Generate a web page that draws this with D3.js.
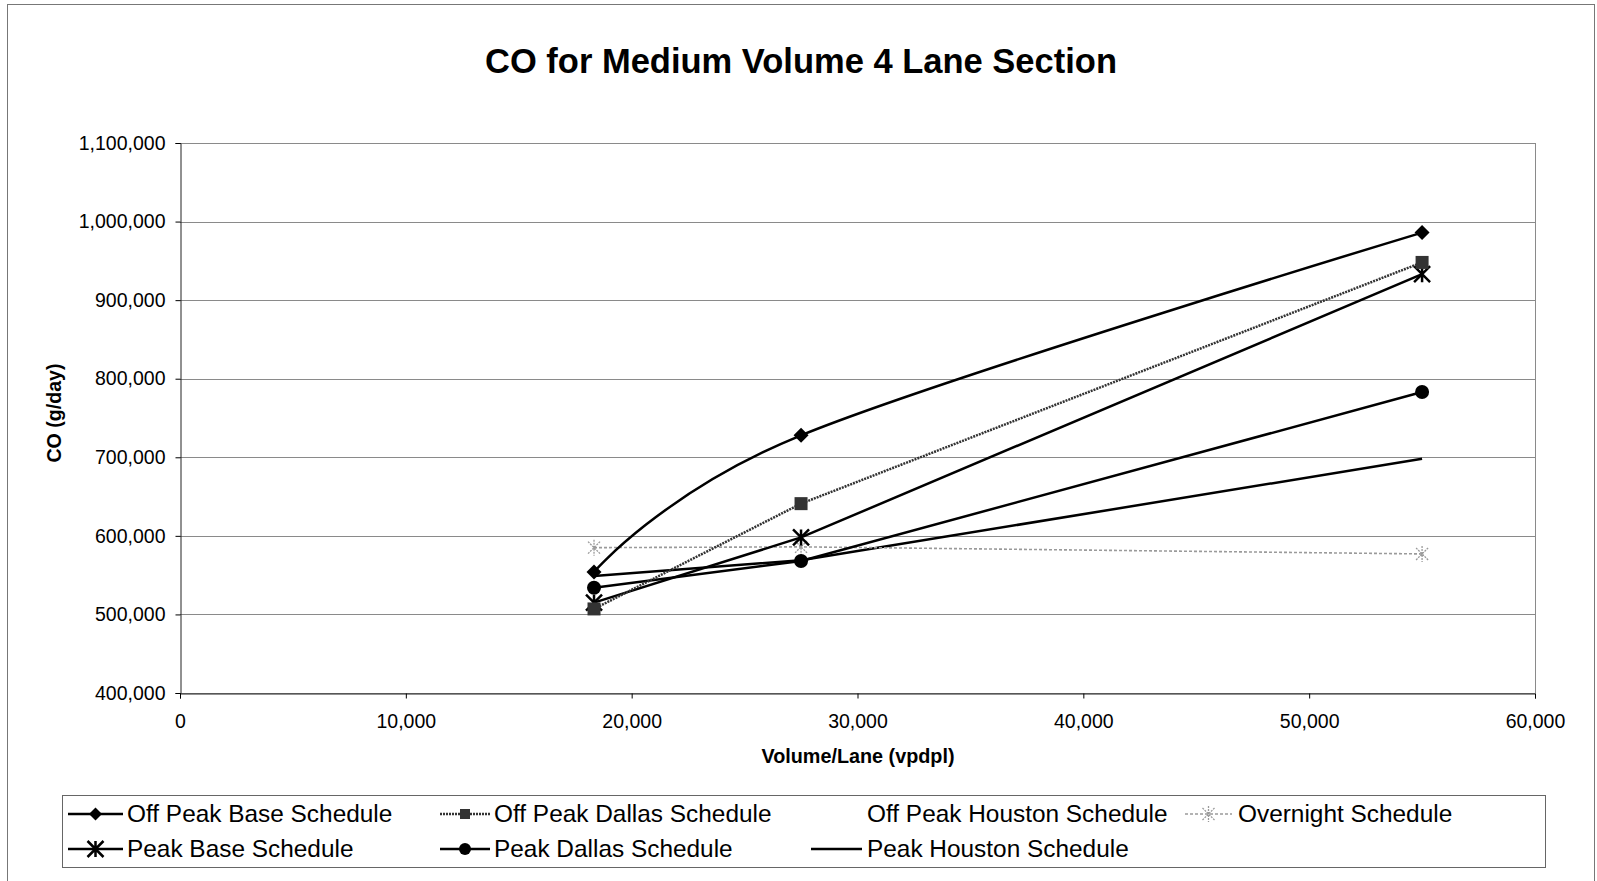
<!DOCTYPE html>
<html><head><meta charset="utf-8">
<script src="https://cdn.jsdelivr.net/npm/d3@7"></script>
<style>body{margin:0;background:#fff}svg{display:block;font-family:"Liberation Sans",Arial,sans-serif}</style>
</head><body>
<svg id="c" width="1597" height="881"></svg>
<script>
const title = "CO for Medium Volume 4 Lane Section";
const xTitle = "Volume/Lane (vpdpl)";
const yTitle = "CO (g/day)";
const xValues = [18333, 27500, 55000];
const offPeakBase = [554000, 728000, 986000];
const offPeakDallas = [507000, 641000, 948000];
const overnight = [585000, 586000, 577000];
const peakBase = [515000, 598000, 933000];
const peakDallas = [534000, 568000, 783000];
const peakHouston = [549000, 569000, 698000];
const xTicks = [0, 10000, 20000, 30000, 40000, 50000, 60000];
const yTicks = [400000, 500000, 600000, 700000, 800000, 900000, 1000000, 1100000];

const svg = d3.select("#c");
const L = 180, R = 1535, T = 143, B = 693;
const x = d3.scaleLinear().domain([0, 60000]).range([L, R]);
const y = d3.scaleLinear().domain([400000, 1100000]).range([B, T]);
const fmt = d3.format(",");

// outer border
svg.append("rect").attr("x", 7.5).attr("y", 4.5).attr("width", 1587).attr("height", 890)
  .attr("fill", "none").attr("stroke", "#777").attr("stroke-width", 1);

// title
svg.append("text").attr("x", 801).attr("y", 73).attr("text-anchor", "middle")
  .attr("font-size", 34.5).attr("font-weight", "bold").text(title);

// gridlines
svg.append("g").selectAll("line").data(yTicks).join("line")
  .attr("x1", L).attr("x2", R).attr("y1", d => Math.round(y(d)) + 0.5).attr("y2", d => Math.round(y(d)) + 0.5)
  .attr("stroke", "#8a8a8a").attr("stroke-width", 1);
// right border
svg.append("line").attr("x1", R + 0.5).attr("x2", R + 0.5).attr("y1", T).attr("y2", B)
  .attr("stroke", "#8a8a8a");

// axes
const yAxis = d3.axisLeft(y).tickValues(yTicks).tickFormat(fmt).tickSize(5).tickPadding(10);
const gy = svg.append("g").attr("transform", `translate(${L + 0.5},0)`).call(yAxis);
gy.selectAll("text").attr("font-size", 19.5).attr("fill", "#000").attr("font-family", "Liberation Sans, Arial");
gy.select(".domain").attr("stroke", "#222");
const xAxis = d3.axisBottom(x).tickValues(xTicks).tickFormat(fmt).tickSize(5).tickPadding(16);
const gx = svg.append("g").attr("transform", `translate(0,${B + 0.5})`).call(xAxis);
gx.selectAll("text").attr("font-size", 19.5).attr("fill", "#000").attr("font-family", "Liberation Sans, Arial");
gx.select(".domain").attr("stroke", "#222");

// axis titles
svg.append("text").attr("x", 858).attr("y", 763).attr("text-anchor", "middle")
  .attr("font-size", 19.8).attr("font-weight", "bold").text(xTitle);
svg.append("text").attr("transform", "translate(61,413) rotate(-90)").attr("text-anchor", "middle")
  .attr("font-size", 19.6).attr("font-weight", "bold").text(yTitle);

// marker drawers
function marker(g, type, cx, cy, color) {
  if (type === "diamond") {
    g.append("path").attr("d", `M${cx},${cy-7.5}L${cx+7.5},${cy}L${cx},${cy+7.5}L${cx-7.5},${cy}Z`).attr("fill", color);
  } else if (type === "square") {
    g.append("rect").attr("x", cx-6.5).attr("y", cy-6.5).attr("width", 13).attr("height", 13).attr("fill", color);
  } else if (type === "circle") {
    g.append("circle").attr("cx", cx).attr("cy", cy).attr("r", 7).attr("fill", color);
  } else if (type === "star") {
    const r = 8;
    const d = `M${cx-r},${cy-r}L${cx+r},${cy+r}M${cx-r},${cy+r}L${cx+r},${cy-r}M${cx},${cy-r}L${cx},${cy+r}`;
    g.append("path").attr("d", d).attr("stroke", color).attr("stroke-width", 2.5).attr("fill", "none");
  } else if (type === "xstar") {
    const r = 6;
    const d = `M${cx-r},${cy-r}L${cx+r},${cy+r}M${cx-r},${cy+r}L${cx+r},${cy-r}M${cx},${cy-r-2}L${cx},${cy+r+2}`;
    g.append("path").attr("d", d).attr("stroke", color).attr("stroke-width", 1.3).attr("fill", "none").attr("stroke-dasharray", "2,1");
  }
}

const series = [
  {name: "Peak Houston Schedule", vals: peakHouston, color: "#000", w: 2.5, dash: null, m: null, curve: d3.curveLinear},
  {name: "Overnight Schedule", vals: overnight, color: "#9a9a9a", w: 1.6, dash: "3,2", m: "xstar", curve: d3.curveLinear},
  {name: "Peak Dallas Schedule", vals: peakDallas, color: "#000", w: 2.5, dash: null, m: "circle", curve: d3.curveLinear},
  {name: "Peak Base Schedule", vals: peakBase, color: "#000", w: 2.5, dash: null, m: "star", curve: d3.curveLinear},
  {name: "Off Peak Dallas Schedule", vals: offPeakDallas, color: "#333", w: 2.5, dash: "2,1", m: "square", curve: d3.curveLinear},
  {name: "Off Peak Base Schedule", vals: offPeakBase, color: "#000", w: 2.5, dash: null, m: "diamond", curve: d3.curveCardinal.tension(0)},
];

const plot = svg.append("g");
series.forEach(s => {
  const pts = xValues.map((xv, i) => [xv, s.vals[i]]);
  const line = d3.line().x(d => x(d[0])).y(d => y(d[1])).curve(s.curve);
  plot.append("path").attr("d", line(pts)).attr("fill", "none").attr("stroke", s.color)
    .attr("stroke-width", s.w).attr("stroke-dasharray", s.dash);
  if (s.m) pts.forEach(p => marker(plot, s.m, x(p[0]), y(p[1]), s.color));
});

// legend
const lg = svg.append("g");
lg.append("rect").attr("x", 62.5).attr("y", 795.5).attr("width", 1483).attr("height", 72)
  .attr("fill", "#fff").attr("stroke", "#666");
const legendItems = [
  {name: "Off Peak Base Schedule", x0: 68, x1: 123, tx: 127, row: 0, color: "#000", dash: null, m: "diamond", w: 2.5},
  {name: "Off Peak Dallas Schedule", x0: 440, x1: 490, tx: 494, row: 0, color: "#333", dash: "2,1", m: "square", w: 2.5},
  {name: "Off Peak Houston Schedule", x0: 811, x1: 862, tx: 867, row: 0, color: "#fff", dash: null, m: null, w: 2.5},
  {name: "Overnight Schedule", x0: 1185, x1: 1232, tx: 1238, row: 0, color: "#9a9a9a", dash: "3,2", m: "xstar", w: 1.6},
  {name: "Peak Base Schedule", x0: 68, x1: 123, tx: 127, row: 1, color: "#000", dash: null, m: "star", w: 2.5},
  {name: "Peak Dallas Schedule", x0: 440, x1: 490, tx: 494, row: 1, color: "#000", dash: null, m: "circle", w: 2.5},
  {name: "Peak Houston Schedule", x0: 811, x1: 862, tx: 867, row: 1, color: "#000", dash: null, m: null, w: 2.5},
];
const rowY = [814, 849];
legendItems.forEach(it => {
  const yy = rowY[it.row];
  lg.append("line").attr("x1", it.x0).attr("x2", it.x1).attr("y1", yy).attr("y2", yy)
    .attr("stroke", it.color).attr("stroke-width", it.w).attr("stroke-dasharray", it.dash);
  if (it.m) {
    const g = lg.append("g");
    const sav = it.m;
    const mx = (it.x0 + it.x1) / 2;
    if (sav === "diamond") g.append("path").attr("d", `M${mx},${yy-6.5}L${mx+6.5},${yy}L${mx},${yy+6.5}L${mx-6.5},${yy}Z`).attr("fill", it.color);
    else if (sav === "square") g.append("rect").attr("x", mx-5).attr("y", yy-5).attr("width", 10).attr("height", 10).attr("fill", it.color);
    else if (sav === "circle") g.append("circle").attr("cx", mx).attr("cy", yy).attr("r", 6).attr("fill", it.color);
    else marker(g, sav, mx, yy, it.color);
  }
  lg.append("text").attr("x", it.tx).attr("y", yy + 8).attr("font-size", 24.4).text(it.name);
});
</script>
</body></html>
